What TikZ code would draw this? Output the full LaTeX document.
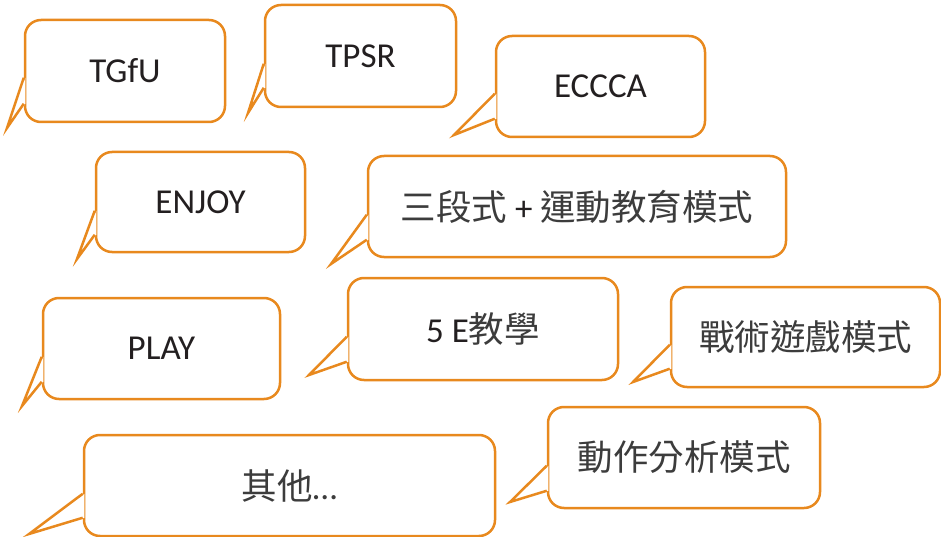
\documentclass[tikz,border=0pt]{standalone}
\usepackage{fontspec}
\setmainfont{Carlito}
\newfontfamily\cjk{Noto Sans CJK TC}
\definecolor{bubbleorange}{RGB}{232,137,30}
\definecolor{textdark}{RGB}{35,31,32}
\definecolor{cjkgray}{RGB}{60,60,60}
\newcommand\cj[1]{{\cjk\fontsize{35.5}{40}\selectfont\color{cjkgray}#1}}
\tikzset{
  bubble/.style={draw=bubbleorange, line width=2.5pt, rounded corners=16pt,
    fill=white, inner sep=0pt, text=textdark,
    font=\fontsize{35}{40}\selectfont},
  bubbleline/.style={draw=bubbleorange, line width=2.5pt, line join=miter},
}
\newcommand\mktail[3]{%
  \fill[white] ([shift={(1.6pt,-#2pt)}]#1.north west) -- (#1-tip)
     -- ([shift={(1.6pt,-#3pt)}]#1.north west) -- cycle;
  \draw[bubbleline] ([yshift=-#2pt]#1.north west) -- (#1-tip)
     -- ([yshift=-#3pt]#1.north west);}
\begin{document}
\begin{tikzpicture}[x=1pt,y=-1pt]
\useasboundingbox (0,0) rectangle (941,537);
% TGfU
\node[bubble, minimum width=200pt, minimum height=102pt] (tgfu) at (125,71) {TGfU};
\coordinate (tgfu-tip) at (7,128);
\mktail{tgfu}{59}{85}
% TPSR
\node[bubble, minimum width=191pt, minimum height=102pt] (tpsr) at (360.5,56) {TPSR};
\coordinate (tpsr-tip) at (248,113);
\mktail{tpsr}{60}{84}
% ECCCA
\node[bubble, minimum width=209pt, minimum height=101pt] (eccca) at (600.5,86.5) {ECCCA};
\coordinate (eccca-tip) at (454,135);
\mktail{eccca}{59}{84}
% ENJOY
\node[bubble, minimum width=209pt, minimum height=100pt] (enjoy) at (200.5,202) {ENJOY};
\coordinate (enjoy-tip) at (77,259);
\mktail{enjoy}{60}{84}
% three-stage + sport education
\node[bubble, minimum width=418pt, minimum height=101pt] (sanduan) at (577,206.5)
  {\cj{三段式} + \cj{運動教育模式}};
\coordinate (sanduan-tip) at (331,264);
\mktail{sanduan}{60}{85}
% PLAY
\node[bubble, minimum width=237pt, minimum height=101pt] (play) at (161.5,348.5) {PLAY};
\coordinate (play-tip) at (22,406);
\mktail{play}{60}{85}
% 5E
\node[bubble, minimum width=270pt, minimum height=102pt] (fivee) at (483,329) {5 E\cj{教學}};
\coordinate (fivee-tip) at (309,375);
\mktail{fivee}{60}{85}
% tactical games
\node[bubble, minimum width=269pt, minimum height=100pt] (tactic) at (805.5,337) {\cj{戰術遊戲模式}};
\coordinate (tactic-tip) at (633,382);
\mktail{tactic}{59}{83}
% others
\node[bubble, minimum width=411pt, minimum height=101pt] (others) at (289.5,485.5) {\cj{其他}{\color{cjkgray}…}};
\coordinate (others-tip) at (29,534);
\mktail{others}{60}{84}
% movement analysis
\node[bubble, minimum width=272pt, minimum height=101pt] (motion) at (684,457.5) {\cj{動作分析模式}};
\coordinate (motion-tip) at (510,502);
\mktail{motion}{60}{85}
\end{tikzpicture}
\end{document}
